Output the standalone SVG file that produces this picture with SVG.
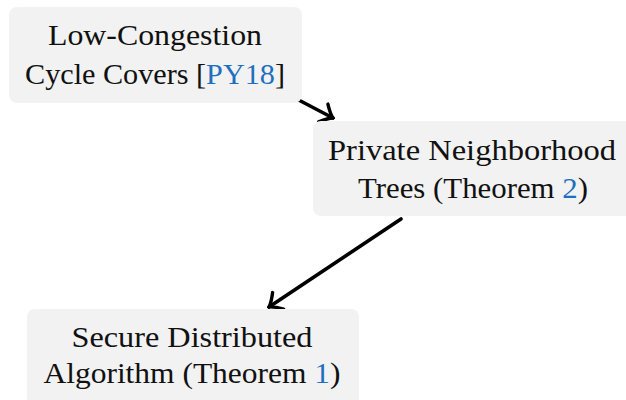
<svg xmlns="http://www.w3.org/2000/svg" width="626" height="400" viewBox="0 0 626 400">
<style>
.box{fill:#f2f2f2;}
.t{font-family:"Liberation Serif","Times New Roman",serif;font-size:30px;fill:#111;text-anchor:middle;}
.ref{fill:#1f6fbf;}
.edge{stroke:#000;stroke-width:3.6;fill:none;stroke-linecap:round;}
</style>
<defs>
<marker id="ah" viewBox="-14 -12 16 24" markerWidth="16" markerHeight="24" refX="0" refY="0" orient="auto" markerUnits="userSpaceOnUse">
<path d="M-11,-10 Q-4,-2 0,0 Q-4,2 -11,10" fill="none" stroke="#000" stroke-width="3.4" stroke-linecap="round"/>
</marker>
</defs>
<g id="connectors">
<path class="edge" d="M293,97 L333,118" marker-end="url(#ah)"/>
<path class="edge" d="M401,219 L269,307" marker-end="url(#ah)"/>
</g>
<g id="node-cycle-covers">
<rect class="box" x="9" y="7" width="293" height="96" rx="8"/>
<text class="t" x="155" y="45" textLength="214" lengthAdjust="spacingAndGlyphs">Low-Congestion</text>
<text class="t" x="155" y="84" textLength="260" lengthAdjust="spacingAndGlyphs">Cycle Covers [<tspan class="ref">PY18</tspan>]</text>
</g>
<g id="node-private-trees">
<rect class="box" x="313" y="121" width="323" height="95" rx="8"/>
<text class="t" x="472" y="160" textLength="288" lengthAdjust="spacingAndGlyphs">Private Neighborhood</text>
<text class="t" x="473" y="198" textLength="230" lengthAdjust="spacingAndGlyphs">Trees (Theorem <tspan class="ref">2</tspan>)</text>
</g>
<g id="node-secure-algorithm">
<rect class="box" x="27" y="309" width="332" height="100" rx="8"/>
<text class="t" x="192" y="347" textLength="241" lengthAdjust="spacingAndGlyphs">Secure Distributed</text>
<text class="t" x="192" y="383" textLength="297" lengthAdjust="spacingAndGlyphs">Algorithm (Theorem <tspan class="ref">1</tspan>)</text>
</g>
</svg>
